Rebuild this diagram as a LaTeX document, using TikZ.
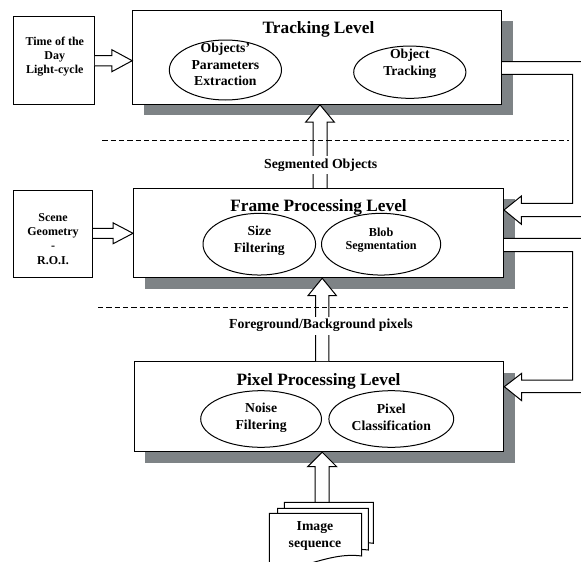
\documentclass[tikz,border=0pt]{standalone}
\usepackage{fontspec}
\setmainfont{Liberation Serif}
\usetikzlibrary{calc,shapes.geometric,shadows}
\definecolor{shadowgray}{RGB}{126,131,134}
\newcommand\fatright[5]{\filldraw[fatarrow] let \p1=#1, \p2=#2 in
  (\x1,\y2+#3) -- (\x2-#5,\y2+#3) -- (\x2-#5,\y2+#4) -- (\x2,\y2)
  -- (\x2-#5,\y2-#4) -- (\x2-#5,\y2-#3) -- (\x1,\y2-#3);}
\newcommand\fatup[5]{\filldraw[fatarrow] let \p1=#1, \p2=#2 in
  (\x2-#3,\y1) -- (\x2-#3,\y2-#5) -- (\x2-#4,\y2-#5) -- (\x2,\y2)
  -- (\x2+#4,\y2-#5) -- (\x2+#3,\y2-#5) -- (\x2+#3,\y1);}
\begin{document}
\begin{tikzpicture}[x=1pt,y=-1pt,line width=1pt,
  levelbox/.style={draw,fill=white,inner sep=0pt,
    drop shadow={opacity=1,fill=shadowgray,shadow xshift=11pt,shadow yshift=-11pt}},
  sidebox/.style={draw,fill=white,inner sep=0pt},
  ell/.style={draw,ellipse,inner sep=0pt},
  title/.style={font=\fontsize{17.3}{20}\selectfont\bfseries,anchor=base,inner sep=0pt},
  etxt/.style={font=\fontsize{13.7}{16.8}\selectfont\bfseries,align=center,inner sep=0pt},
  stxt/.style={font=\fontsize{12}{14.2}\selectfont\bfseries,align=center,inner sep=0pt},
  lbl/.style={font=\fontsize{13.8}{16}\selectfont\bfseries,fill=white,inner sep=2.5pt},
  fatarrow/.style={draw,fill=white,line join=miter},
  sep/.style={draw,line width=1pt,dash pattern=on 5.3pt off 3pt},
  page/.style={draw,fill=white,line join=miter}]
\useasboundingbox (0,0) rectangle (581,562);
\clip (0,0) rectangle (581,562);

% level boxes
\node[levelbox,minimum width=369,minimum height=94.3] (trk) at (317.2,57.15) {};
\node[levelbox,minimum width=370,minimum height=89.4] (frm) at (318.5,233) {};
\node[levelbox,minimum width=369.6,minimum height=90] (pix) at (319,406.7) {};

% side boxes
\node[sidebox,minimum width=80.6,minimum height=88.3] (time) at (54,60.15) {};
\node[sidebox,minimum width=79.7,minimum height=87.7] (scene) at (52.85,233.85) {};
\node[stxt] (timet) at (54.8,56.7) {Time of the\\Day\\Light-cycle};
\node[stxt] (scenet) at (53,239) {Scene\\Geometry\\-\\R.O.I.};

% titles
\node[title] (trkT) at (318.5,34) {Tracking Level};
\node[title] (frmT) at (318.5,211) {Frame Processing Level};
\node[title] (pixT) at (318.5,385.7) {Pixel Processing Level};

% ellipses
\node[ell,minimum width=112.2,minimum height=60] (e1) at (225.4,70) {};
\node[etxt] (e1t) at (225.4,64.5) {Objects’\\Parameters\\Extraction};
\node[ell,minimum width=112.2,minimum height=52.3] (e2) at (409.8,72.2) {};
\node[etxt] (e2t) at (409.8,63.8) {Object\\Tracking};
\node[ell,minimum width=112.6,minimum height=61.7] (e3) at (259.3,244.2) {};
\node[etxt] (e3t) at (259.3,241) {Size\\Filtering};
\node[ell,minimum width=119.2,minimum height=61.7] (e4) at (381.1,244.2) {};
\node[etxt,font=\fontsize{12.2}{13.6}\selectfont\bfseries] (e4t) at (381.1,240) {Blob\\Segmentation};
\node[ell,minimum width=120.8,minimum height=56.6] (e5) at (261.1,419) {};
\node[etxt] (e5t) at (261.1,417.5) {Noise\\Filtering};
\node[ell,minimum width=124.8,minimum height=56.6] (e6) at (391.3,419) {};
\node[etxt] (e6t) at (391.3,417.7) {Pixel\\Classification};

% reference coordinates
\coordinate (yTime) at (0,60.7);
\coordinate (yScene) at (0,233.3);
\coordinate (xV1) at (320,0);
\coordinate (xV2) at (322.2,0);
\coordinate (doctop) at (322.2,502.3);

% side input arrows
\fatright{(time.east |- yTime)}{(trk.west |- yTime)}{5.15pt}{11pt}{20.4pt}
\fatright{(scene.east |- yScene)}{(frm.west |- yScene)}{5pt}{10.5pt}{20pt}

% upward arrows
\fatup{(frm.north -| xV1)}{(trk.south -| xV1)}{7pt}{14.4pt}{17.4pt}
\fatup{(pix.north -| xV2)}{(frm.south -| xV2)}{6.7pt}{14.1pt}{17.3pt}
\fatup{(doctop)}{(pix.south -| xV2)}{7pt}{14.5pt}{14.5pt}

% feedback arrows on the right
\filldraw[fatarrow] let \p1=(trk.east), \p2=(frm.east) in
  (\x1,-61.7pt) -- (600pt,-61.7pt) -- (600pt,-216.7pt) -- (\x2+17.4pt,-216.7pt)
  -- (\x2+17.4pt,-224.3pt) -- (\x2,-210pt) -- (\x2+17.4pt,-196pt)
  -- (\x2+17.4pt,-203.3pt) -- (572.7pt,-203.3pt) -- (572.7pt,-74.3pt) -- (\x1,-74.3pt);
\filldraw[fatarrow] let \p1=(frm.east), \p2=(pix.east) in
  (\x1,-238.3pt) -- (600pt,-238.3pt) -- (600pt,-392.7pt) -- (\x2+17.4pt,-392.7pt)
  -- (\x2+17.4pt,-400.7pt) -- (\x2,-386.7pt) -- (\x2+17.4pt,-373.3pt)
  -- (\x2+17.4pt,-380pt) -- (572.7pt,-380pt) -- (572.7pt,-251.7pt) -- (\x1,-251.7pt);

% image sequence pages
\path[page] (284.3,502.3) -- (373.3,502.3) -- (373.3,543.3)
  .. controls (350,540) and (330,548) .. (310,553) .. controls (300,555) and (292,555) .. (284.3,554) -- cycle;
\path[page] (277.7,508.3) -- (368.3,508.3) -- (368.3,550)
  .. controls (345,547) and (325,555) .. (305,560) .. controls (295,562) and (287,562) .. (277.7,561) -- cycle;
\path[page] (269.3,513.3) -- (361.7,513.3) -- (361.7,556)
  .. controls (340,553) and (320,561) .. (300,566) .. controls (290,568) and (280,568) .. (269.3,567) -- cycle;
\node[etxt] (imgt) at (315,536.3) {Image\\sequence};

% separators
\draw[sep] (102.3,140.5) -- (569,140.5);
\draw[sep] (98,307.5) -- (568.5,307.5);

% arrow labels
\node[lbl] (segl) at (320.7,165) {Segmented Objects};
\node[lbl] (fgl) at (320.9,325.7) {Foreground/Background pixels};
\end{tikzpicture}
\end{document}
